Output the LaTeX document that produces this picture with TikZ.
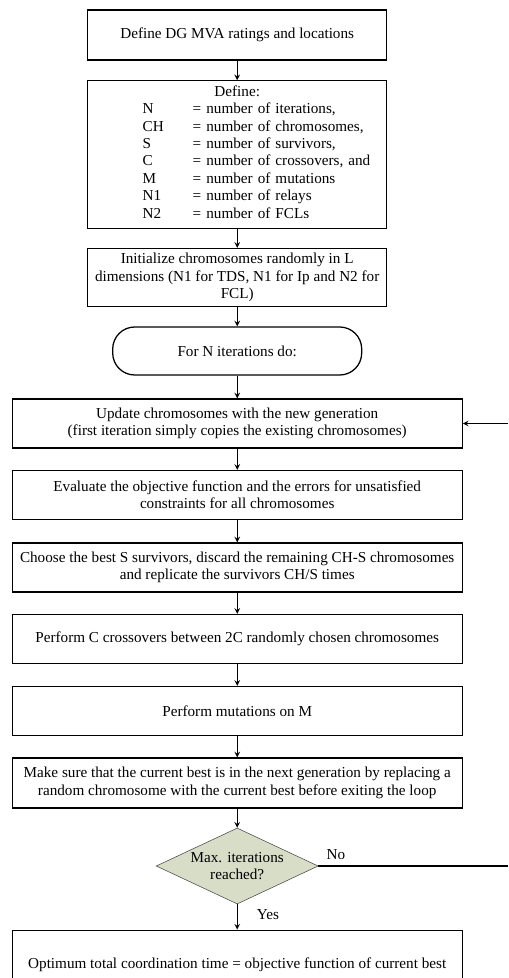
\documentclass[tikz,border=0pt]{standalone}
\usepackage{fontspec}
\setmainfont{Liberation Serif}
\usepackage{tikz}
\usetikzlibrary{shapes.geometric, arrows}
\definecolor{sage}{RGB}{216,221,200}
\tikzstyle{arrow} = [thick,->,>=stealth]
\tikzstyle{line} = [thick]
\tikzstyle{rec} = [rectangle, minimum width=7.475cm, minimum height=1.25cm, text centered, align=center, draw=black, line width=0.9pt, font=\fontsize{10.8}{12.4}\selectfont]
\tikzstyle{recW} = [rec, minimum width=11.25cm, minimum height=1.225cm]
\tikzstyle{roundRec} = [rec, rounded corners=0.55cm, minimum width=6.225cm, minimum height=1.2cm]
\tikzstyle{decision} = [diamond, aspect=2.13, minimum width=4.05cm, minimum height=1.9cm, inner sep=0pt, text centered, align=center, draw=black!70, fill=sage, font=\fontsize{10.8}{12.4}\selectfont]
\tikzstyle{lbl} = [font=\fontsize{10.8}{12.4}\selectfont]

\begin{document}
\begin{tikzpicture}[node distance=1.8cm]
		\useasboundingbox (0,0) rectangle (12.7,-24.45);
		\clip (0,0) rectangle (12.7,-24.45);
		\node (ratings) [rec] at (5.93,-0.875) {Define DG MVA ratings and locations};
		\node (define) [rec, node distance=2.9875cm, below of=ratings, minimum height=3.575cm, text width=7.475cm, inner xsep=0pt, align=left] {\makebox[7.475cm]{Define:}\\
			\hspace*{1.375cm}\begin{tabular}[t]{@{}p{1.25cm}@{}l@{}}
				N & = number of iterations,\\
				CH & = number of chromosomes,\\
				S & = number of survivors,\\
				C & = number of crossovers, and\\
				M & = number of mutations\\
				N1 & = number of relays\\
				N2 & = number of FCLs
			\end{tabular}};
		\node (init) [rec, node distance=3.075cm, below of=define, minimum height=1.375cm] {Initialize chromosomes randomly in L\\dimensions (N1 for TDS, N1 for Ip and N2 for\\FCL)};
		\node (loop) [roundRec, node distance=1.8375cm, below of=init] {For N iterations do:};
		\node (update) [recW, node distance=1.8125cm, below of=loop] {Update chromosomes with the new generation\\(first iteration simply copies the existing chromosomes)};
		\node (evaluate) [recW, node distance=1.7875cm, below of=update] {Evaluate the objective function and the errors for unsatisfied\\constraints for all chromosomes};
		\node (choose) [recW, node distance=1.8125cm, below of=evaluate] {Choose the best S survivors, discard the remaining CH-S chromosomes\\and replicate the survivors CH/S times};
		\node (cross) [recW, node distance=1.7875cm, below of=choose] {Perform C crossovers between 2C randomly chosen chromosomes};
		\node (mutate) [recW, below of=cross] {Perform mutations on M};
		\node (keep) [recW, below of=mutate, minimum height=1.25cm] {Make sure that the current best is in the next generation by replacing a\\random chromosome with the current best before exiting the loop};
		\node (check) [decision, node distance=2.075cm, below of=keep] {Max. iterations\\reached?};
		\node (result) [recW, node distance=2.475cm, below of=check, minimum height=1.75cm, line width=0.6pt] {Optimum total coordination time = objective function of current best};
		\coordinate (edge) at (12.7,0);
		\coordinate (noEnd) at (check.east -| edge);
		\coordinate (backIn) at (update.east -| edge);
		\node (no) [lbl, anchor=south] at (8.4,-21.62) {No};
		\node (yes) [lbl, anchor=west] at (6.3,-22.87) {Yes};
		\draw [arrow] (ratings) -- (define);
		\draw [arrow] (define) -- (init);
		\draw [arrow] (init) -- (loop);
		\draw [arrow] (loop) -- (update);
		\draw [arrow] (update) -- (evaluate);
		\draw [arrow] (evaluate) -- (choose);
		\draw [arrow] (choose) -- (cross);
		\draw [arrow] (cross) -- (mutate);
		\draw [arrow] (mutate) -- (keep);
		\draw [arrow] (keep) -- (check);
		\draw [arrow] (check) -- (result);
		\draw [line] (check.east) -- (noEnd);
		\draw [arrow] (backIn) -- (update.east);
	\end{tikzpicture}
\end{document}
